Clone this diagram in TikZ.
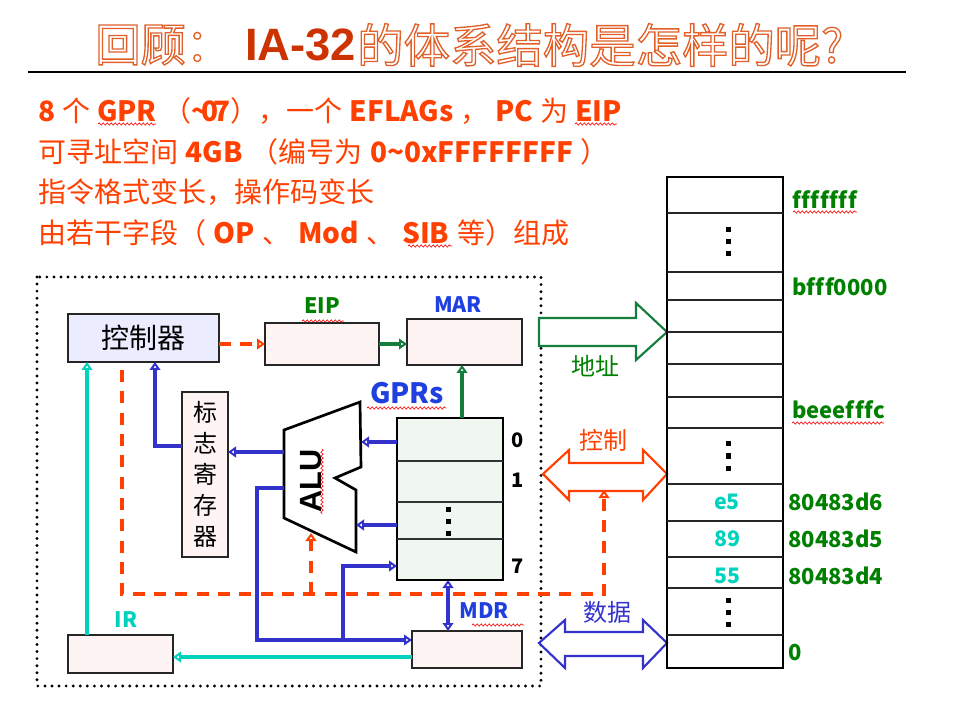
\documentclass[tikz,border=0pt]{standalone}
\usepackage{fontspec}
\setmainfont{Noto Sans CJK SC}
\newfontfamily\arialfont{Liberation Sans}
\newfontfamily\bodyfont[WordSpace=1.35]{Noto Sans CJK SC}
\newfontfamily\bodyfonta[WordSpace=1.1]{Noto Sans CJK SC}
\newfontfamily\addrfont[Ligatures=NoCommon]{Noto Sans CJK SC}
\usetikzlibrary{arrows.meta,decorations.pathmorphing,calc}
\definecolor{ored}{RGB}{255,64,0}
\definecolor{ttl}{RGB}{226,96,40}
\definecolor{ia}{RGB}{204,51,0}
\definecolor{dgreen}{RGB}{0,128,0}
\definecolor{agreen}{RGB}{20,125,60}
\definecolor{lblue}{RGB}{31,63,223}
\definecolor{ablue}{RGB}{51,51,204}
\definecolor{cyanc}{RGB}{0,210,190}
\definecolor{ctlfill}{RGB}{236,236,255}
\definecolor{pinkfill}{RGB}{255,244,244}
\definecolor{gprfill}{RGB}{240,246,240}
\newcommand\fsz[1]{\fontsize{#1}{#1}\selectfont}
\newcommand\hollow[1]{\special{pdf:literal direct 0.886 0.376 0.157 RG 1 w 2 Tr}#1\special{pdf:literal direct 0 Tr}}
\newcommand\bx[7]{\node[#6, inner sep=0pt, outer sep=0pt, minimum width={(#4-#2)*0.75pt}, minimum height={(#5-#3)*0.75pt}] (#1) at ({(#2+#4)/2},{(#3+#5)/2}) {#7};}
\newcommand\sqdots[2]{\foreach \d in {-12,0,12} {\fill ({#1-2.5},{#2+\d-2.5}) rectangle ++(5,5);}}
\newcommand\fk{\kern0.4pt}
\tikzset{
  regbox/.style={draw=black!85, line width=0.8pt, fill=pinkfill},
  ctlbox/.style={draw=black!85, line width=0.8pt, fill=ctlfill, font=\fsz{21}},
  gprbox/.style={draw=black, line width=2pt, fill=gprfill},
  membox/.style={draw=black, line width=1.8pt},
  body/.style={anchor=west, text=ored, inner sep=0pt, font=\bodyfont\fsz{21}},
  lab/.style={inner sep=0pt, font=\fsz{16}\bfseries},
  addr/.style={inner sep=0pt, anchor=west, text=dgreen, font=\addrfont\fsz{16.5}\bfseries},
  tip/.style={-{Triangle[open,length=6pt,width=8pt]}},
  rdash/.style={draw=ored, line width=2.3pt, dash pattern=on 9pt off 7pt},
  garrow/.style={draw=agreen, line width=2.3pt, tip},
  barrow/.style={draw=ablue, line width=2.3pt, tip},
  carrow/.style={draw=cyanc, line width=2.3pt, tip},
  squig/.style={draw=red, line width=0.5pt, decorate, decoration={snake, amplitude=0.8pt, segment length=3pt}},
  busG/.style={draw=agreen, line width=1.6pt, fill=white, line join=miter},
  busR/.style={draw=ored, line width=1.6pt, fill=white, line join=miter},
  busB/.style={draw=ablue, line width=1.6pt, fill=white, line join=miter},
}
\begin{document}
\begin{tikzpicture}[x=0.75pt,y=-0.75pt]
\useasboundingbox (0,0) rectangle (956,712);
\fill[white] (0,0) rectangle (956,712);
% ---------- title ----------
\node[anchor=west, text=white, inner sep=0pt, font=\fsz{34}] (ta) at (95,45) {\hollow{回顾：}};
\node[anchor=west, text=ia, inner sep=0pt, font=\arialfont\bfseries\fsz{34}] (tia) at (245,45) {IA-32};
\node[anchor=west, text=white, inner sep=0pt, font=\fsz{34.8}] (tb) at (357,45) {\hollow{的体系结构是怎样的呢?}};
\draw[line width=2pt] (28,72) -- (906,72);
% ---------- text lines ----------
\node[body, font=\bodyfonta\fsz{21}] (l1) at (38,111) {\textbf{8} 个 \textbf{GPR} （\textbf{\textasciitilde\kern-5pt0\kern-4pt7}），一个 \textbf{EFLAGs} ， \textbf{PC} 为 \textbf{EIP}};
\node[body] (l2) at (38,152) {可寻址空间 \textbf{4GB} （编号为 \textbf{0\textasciitilde0xFFFFFFFF} ）};
\node[body] (l3) at (38,192) {指令格式变长，操作码变长};
\node[body] (l4) at (38,233) {由若干字段（ \textbf{OP} 、 \textbf{Mod} 、 \textbf{SIB} 等）组成};
\draw[squig] (98,124) -- (156,124);
\draw[squig] (575,124) -- (617,124);
\draw[squig] (408,246) -- (452,246);
% ---------- CPU dotted frame ----------
\draw[line width=2.4pt, line cap=round, dash pattern=on 0pt off 5.3pt] (37,277) rectangle (541,686);
% ---------- boxes ----------
\bx{ctl}{68}{314}{219}{362}{ctlbox}{控制器}
\bx{eip}{265}{323}{379}{365}{regbox}{}
\bx{mar}{407}{319}{522}{365}{regbox}{}
\bx{gpr}{397}{418}{503}{580}{gprbox}{}
\bx{flag}{182}{392}{228}{557}{regbox, align=center, font=\fontsize{18}{23.3}\selectfont}{标\\志\\寄\\存\\器}
\bx{mdr}{412}{631}{522}{668}{regbox}{}
\bx{ir}{68}{635}{173}{673}{regbox}{}
\draw[black!80, line width=0.8pt] (397,461) -- (503,461) (397,502) -- (503,502) (397,539) -- (503,539);
\sqdots{448}{521}
% labels
\node[lab, text=dgreen] (leip) at (322,306) {EIP};
\draw[squig] (302,321) -- (344,321);
\node[lab, text=lblue] (lmar) at (458,305) {MAR};
\node[lab, text=lblue, font=\fsz{21}\bfseries] (lgpr) at (407,393) {GPRs};
\draw[squig] (367,408) -- (446,408);
\node[lab, text=lblue] (lmdr) at (484,611) {MDR};
\draw[squig] (472,625) -- (524,625);
\node[lab, text=cyanc] (lir) at (126,620) {IR};
\node[lab, font=\fsz{15}\bfseries] (n0) at (518,440) {0};
\node[lab, font=\fsz{15}\bfseries] (n1) at (518,480) {1};
\node[lab, font=\fsz{15}\bfseries] (n7) at (518,566) {7};
% ---------- ALU ----------
\draw[line width=2pt, fill=white, line join=miter] (284,430) -- (360,402) -- (361,467) -- (335,478) -- (356,490) -- (356,552) -- (284,518) -- cycle;
\node[inner sep=0pt, rotate=90, font=\arialfont\bfseries\fsz{23}] (alu) at (311,481) {ALU};
\draw[squig] (322,449) -- (322,514);
\coordinate (aluR1) at (361,442);
\coordinate (aluR2) at (356,525);
\coordinate (aluL1) at (284,452);
\coordinate (aluL2) at (284,488);
\coordinate (aluB) at (311,533);
% ---------- connectors ----------
\draw[rdash, -{Triangle[open,length=6pt,width=8pt]}] (ctl.east |- eip.west) -- (eip.west);
\draw[garrow] (eip.east) -- (mar.west |- eip.east);
\draw[garrow] ([xshift=9pt]gpr.north) -- ([xshift=9pt]gpr.north |- mar.south);
\draw[barrow] (gpr.west |- aluR1) -- (aluR1);
\draw[barrow] (gpr.west |- aluR2) -- (aluR2);
\draw[barrow] (aluL1) -- (flag.east |- aluL1);
\coordinate (fport) at (182,446);
\coordinate (cb) at (155,362);
\draw[barrow] (fport) -| (cb);
\coordinate (irT) at ($(ir.north west)+(19,0)$);
\draw[carrow] (irT) -- (irT |- ctl.south);
\coordinate (c1s) at (122,370);
\coordinate (dline) at (0,594);
\coordinate (cbusS) at (604,490);
\draw[rdash, -{Triangle[open,length=6pt,width=8pt]}] (c1s) -- (c1s |- dline) -| (cbusS);
\draw[rdash, -{Triangle[open,length=6pt,width=8pt]}] (aluB |- dline) -- (aluB);
\coordinate (bj1) at (257,488);
\coordinate (mdrIn) at (412,640);
\coordinate (bj2) at (343,640);
\coordinate (gprIn) at (397,566);
\draw[barrow] (aluL2) -- (bj1) |- (mdrIn);
\draw[barrow] (bj2) |- (gprIn);
\draw[draw=ablue, line width=2.3pt, {Triangle[open,length=6pt,width=8pt]}-{Triangle[open,length=6pt,width=8pt]}] ([xshift=-1.5pt]gpr.south) -- ([xshift=-1.5pt]gpr.south |- mdr.north);
\coordinate (mdrOut) at (412,657);
\draw[carrow] (mdrOut) -- (mdrOut -| ir.east);
% ---------- buses ----------
\draw[busG] (539,318) -- (636,318) -- (636,303) -- (667,332) -- (636,360) -- (636,346) -- (539,346) -- cycle;
\draw[busR] (543,474) -- (569,450) -- (569,463) -- (643,463) -- (643,450) -- (667,474) -- (643,500) -- (643,491) -- (569,491) -- (569,500) -- cycle;
\draw[busB] (539,643) -- (565,620) -- (565,632) -- (643,632) -- (643,620) -- (667,643) -- (643,668) -- (643,656) -- (565,656) -- (565,668) -- cycle;
\node[inner sep=0pt, text=dgreen, font=\fsz{18}] (baddr) at (595,366) {地址};
\node[inner sep=0pt, text=ored, font=\fsz{18}] (bctl) at (603,440) {控制};
\node[inner sep=0pt, text=ablue, font=\fsz{18}] (bdat) at (607,612) {数据};
% ---------- memory ----------
\bx{mem}{667}{177}{783}{668}{membox}{}
\foreach \yy in {213,272,300,332,364,397,428,484,521,557,588,635} {\draw[black!85, line width=0.8pt] (667,\yy) -- (783,\yy);}
\sqdots{728}{242}
\sqdots{728}{456}
\sqdots{728}{612}
\node[lab, text=cyanc] (me5) at (727,502) {e5};
\node[lab, text=cyanc] (m89) at (727,539) {89};
\node[lab, text=cyanc] (m55) at (727,576) {55};
\node[addr] (a1) at (792,200) {f\fk f\fk f\fk f\fk f\fk f\fk f};
\draw[squig] (793,212) -- (857,212);
\node[addr] (a2) at (792,287) {bf\fk f\fk f0000};
\node[addr] (a3) at (792,410) {beeef\fk f\fk fc};
\draw[squig] (792,423) -- (884,423);
\node[addr] (a4) at (788,502) {80483d6};
\node[addr] (a5) at (788,539) {80483d5};
\node[addr] (a6) at (788,576) {80483d4};
\node[addr] (a7) at (788,653) {0};
\end{tikzpicture}
\end{document}
